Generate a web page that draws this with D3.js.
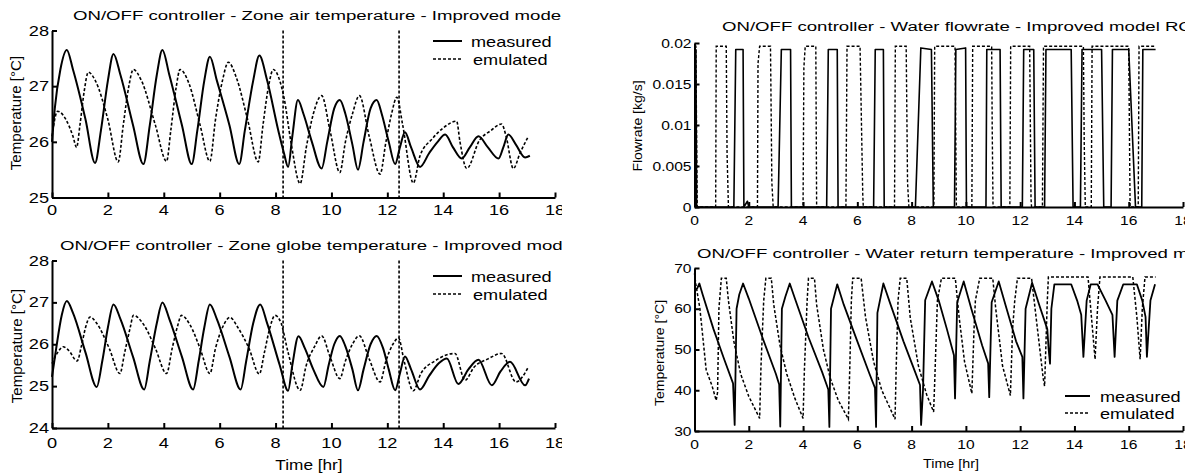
<!DOCTYPE html>
<html>
<head>
<meta charset="utf-8">
<script src="https://cdn.jsdelivr.net/npm/d3@7"></script>
<style>
  body { margin: 0; background: #fff; }
  svg { display: block; font-family: "Liberation Sans", Arial, Helvetica, sans-serif; }
</style>
</head>
<body>
<svg id="chart" width="1195" height="474"></svg>
<script>
// 1. Data (time in hr)
const timeTicks = [0, 2, 4, 6, 8, 10, 12, 14, 16, 18];
const airTicks = [25, 26, 27, 28];
const globeTicks = [24, 25, 26, 27, 28];
const flowTicks = [0, 0.005, 0.01, 0.015, 0.02];
const flowTickLabels = ["0", "0.005", "0.01", "0.015", "0.02"];
const returnTicks = [30, 40, 50, 60, 70];
const switchTimes = [8.27, 12.42];
const legendNames = ["measured", "emulated"];

const airMeasured = [[0,26.0],[0.1,26.6],[0.3,27.3],[0.53,27.65],[0.75,27.3],[1.2,26.4],[1.54,25.62],[1.75,26.2],[2.0,27.1],[2.2,27.58],[2.45,27.2],[2.9,26.3],[3.27,25.6],[3.5,26.3],[3.75,27.2],[3.95,27.65],[4.2,27.2],[4.65,26.3],[5.0,25.6],[5.2,26.2],[5.45,27.1],[5.65,27.53],[5.9,27.1],[6.35,26.3],[6.7,25.6],[6.9,26.2],[7.2,27.1],[7.42,27.55],[7.7,27.1],[8.1,26.2],[8.3,25.8],[8.45,25.55],[8.6,26.1],[8.8,26.75],[9.0,26.5],[9.3,26.0],[9.65,25.52],[9.85,26.0],[10.1,26.6],[10.3,26.75],[10.5,26.5],[10.75,25.95],[10.95,25.5],[11.15,26.0],[11.4,26.6],[11.62,26.75],[11.8,26.5],[12.05,26.0],[12.28,25.6],[12.45,25.9],[12.63,26.17],[12.85,25.9],[13.17,25.55],[13.5,25.8],[13.8,26.0],[14.07,26.13],[14.35,25.9],[14.66,25.7],[14.95,25.9],[15.26,26.1],[15.6,25.9],[15.98,25.7],[16.15,25.9],[16.33,26.13],[16.6,25.95],[16.93,25.72],[17.1,25.75]];
const airEmulated = [[0,26.1],[0.2,26.55],[0.5,26.4],[0.75,26.1],[0.88,25.9],[1.0,26.3],[1.15,26.9],[1.3,27.25],[1.55,27.1],[2.0,26.4],[2.37,25.64],[2.55,26.3],[2.75,27.0],[2.91,27.3],[3.2,27.1],[3.7,26.3],[4.1,25.65],[4.25,26.2],[4.45,27.0],[4.58,27.3],[4.9,27.05],[5.3,26.3],[5.65,25.65],[5.85,26.4],[6.1,27.1],[6.31,27.43],[6.6,27.15],[7.0,26.4],[7.38,25.64],[7.55,26.3],[7.75,27.0],[7.92,27.3],[8.15,27.1],[8.3,26.8],[8.55,26.0],[8.88,25.25],[9.1,25.9],[9.35,26.5],[9.65,26.83],[9.95,26.2],[10.3,25.45],[10.5,26.0],[10.75,26.5],[11.0,26.83],[11.35,26.1],[11.74,25.42],[11.95,26.0],[12.15,26.5],[12.34,26.8],[12.55,26.3],[12.93,25.26],[13.17,25.75],[13.6,26.05],[14.0,26.25],[14.48,26.37],[14.6,26.0],[14.84,25.52],[15.3,26.03],[15.7,26.2],[16.09,26.32],[16.25,26.1],[16.51,25.52],[16.75,25.8],[17.05,26.1]];

const globeMeasured = [[0,25.22],[0.15,25.9],[0.35,26.7],[0.53,27.03],[0.75,26.75],[1.2,25.8],[1.6,24.98],[1.8,25.6],[2.0,26.4],[2.2,26.95],[2.45,26.6],[2.9,25.7],[3.3,24.92],[3.5,25.6],[3.75,26.5],[3.95,27.0],[4.2,26.6],[4.65,25.7],[5.05,24.92],[5.25,25.6],[5.45,26.4],[5.65,26.95],[5.9,26.6],[6.35,25.7],[6.75,24.92],[6.95,25.6],[7.2,26.5],[7.45,26.95],[7.7,26.5],[8.15,25.5],[8.45,24.89],[8.6,25.5],[8.82,26.19],[9.05,25.9],[9.35,25.4],[9.71,24.98],[9.9,25.5],[10.1,26.0],[10.3,26.2],[10.5,25.95],[10.75,25.4],[10.95,24.9],[11.15,25.4],[11.4,26.0],[11.62,26.2],[11.85,25.9],[12.05,25.4],[12.28,24.9],[12.45,25.3],[12.63,25.71],[12.85,25.4],[13.17,24.92],[13.5,25.25],[13.85,25.55],[14.13,25.66],[14.54,25.05],[14.9,25.4],[15.26,25.63],[15.74,25.02],[16.05,25.35],[16.39,25.58],[16.93,25.02],[17.07,25.18]];
const globeEmulated = [[0,25.54],[0.2,25.8],[0.4,25.94],[0.6,25.85],[0.9,25.6],[1.05,25.95],[1.2,26.4],[1.36,26.65],[1.6,26.5],[2.05,25.9],[2.43,25.3],[2.6,25.8],[2.8,26.4],[2.91,26.69],[3.3,26.45],[3.7,25.9],[4.1,25.3],[4.3,25.9],[4.5,26.45],[4.63,26.69],[4.95,26.45],[5.3,25.9],[5.65,25.3],[5.85,25.9],[6.1,26.4],[6.37,26.64],[6.65,26.4],[7.05,25.9],[7.42,25.29],[7.6,25.8],[7.8,26.4],[7.98,26.69],[8.2,26.5],[8.45,25.8],[8.88,24.9],[9.1,25.5],[9.4,25.95],[9.65,26.2],[9.95,25.7],[10.3,25.18],[10.5,25.6],[10.75,26.0],[11.0,26.2],[11.35,25.65],[11.74,25.1],[11.95,25.6],[12.2,26.0],[12.4,26.15],[12.6,25.6],[12.93,24.89],[13.2,25.3],[13.7,25.6],[14.42,25.78],[14.78,25.14],[15.1,25.45],[15.6,25.65],[16.09,25.78],[16.6,25.1],[17.05,25.46]];

const flowMeasured = [[0,0.0192],[0.05,0.0192],[0.08,0],[1.45,0],[1.52,0.0192],[1.79,0.0192],[1.82,0],[1.95,0.0007],[2.0,0],[3.08,0],[3.2,0.0192],[3.54,0.0192],[3.57,0],[4.87,0],[4.93,0.0192],[5.26,0.0192],[5.29,0],[6.6,0],[6.66,0.0192],[6.96,0.0192],[6.99,0],[8.14,0],[8.34,0.0194],[8.73,0.0192],[8.8,0],[9.58,0],[9.63,0.0192],[9.99,0.0194],[10.02,0],[10.74,0],[10.77,0.0192],[11.26,0.0192],[11.3,0],[12.08,0],[12.13,0.0192],[12.5,0.0192],[12.55,0],[12.9,0],[12.95,0.0192],[13.88,0.0192],[13.95,0],[14.22,0],[14.28,0.0192],[15.0,0.0192],[15.08,0],[15.35,0],[15.4,0.0192],[16.0,0.0192],[16.25,0],[16.48,0],[16.52,0.0192],[16.99,0.0192]];
const flowEmulated = [[0,0.0196],[0.05,0.0196],[0.1,0],[0.78,0],[0.8,0.0196],[1.17,0.0196],[1.2,0.0065],[1.25,0],[2.32,0],[2.34,0.0175],[2.4,0.0196],[2.8,0.0196],[2.85,0.003],[2.9,0],[4.0,0],[4.03,0.017],[4.08,0.0196],[4.47,0.0196],[4.5,0],[5.58,0],[5.62,0.0196],[6.1,0.0196],[6.2,0.0015],[6.22,0],[7.37,0],[7.4,0.0196],[7.8,0.0196],[7.85,0.003],[7.9,0],[8.82,0],[8.85,0.0196],[9.6,0.0196],[9.65,0],[10.22,0],[10.25,0.0196],[10.95,0.0196],[10.97,0.0096],[11.0,0],[11.62,0],[11.65,0.0196],[12.35,0.0196],[12.4,0.001],[12.42,0],[12.82,0],[12.86,0.0196],[14.33,0.0196],[14.36,0.008],[14.4,0],[14.62,0],[14.65,0.0196],[16.0,0.0196],[16.05,0],[16.35,0],[16.38,0.0196],[16.99,0.0196]];

const returnMeasured = [[0,64.5],[0.1,65.0],[0.18,66.2],[0.3,63.5],[0.7,55],[1.1,47.5],[1.42,41.7],[1.48,31.5],[1.55,60],[1.65,63.5],[1.79,66.2],[2.0,62.5],[2.5,53],[3.0,44],[3.12,41.4],[3.16,31.1],[3.22,60],[3.35,63],[3.51,66.2],[3.7,62.5],[4.2,53],[4.7,44.5],[4.93,40.2],[4.97,31],[5.03,60],[5.26,66.0],[5.5,61],[6.0,52],[6.45,44],[6.65,40.6],[6.69,31],[6.74,59],[6.96,66.2],[7.2,61.5],[7.7,52],[8.1,45],[8.31,41.3],[8.35,31.5],[8.42,40],[8.5,62.1],[8.75,66.7],[9.0,62],[9.3,55],[9.56,48.6],[9.6,38],[9.68,61.6],[9.92,66.7],[10.2,60],[10.6,51],[10.82,46.6],[10.86,38.3],[10.95,61.6],[11.21,66.7],[11.5,60],[11.85,52],[12.08,48.2],[12.12,38],[12.2,60],[12.44,66.4],[12.7,61],[13.0,55],[13.05,50],[13.1,46.5],[13.15,60],[13.26,66],[13.88,66],[14.1,62],[14.25,58.5],[14.33,48.2],[14.45,62],[14.6,66],[14.85,66],[15.15,62],[15.4,58.5],[15.48,48.2],[15.58,62],[15.8,66],[16.3,66],[16.5,62],[16.62,58],[16.67,48.2],[16.8,62],[16.97,66]];
const returnEmulated = [[0,68.7],[0.05,66],[0.2,60],[0.43,45],[0.65,41],[0.8,37.5],[0.85,39.5],[0.9,60],[0.99,67.5],[1.17,67.5],[1.25,62],[1.45,52],[1.7,44],[2.0,38.5],[2.4,33.1],[2.45,46],[2.55,62],[2.63,67.5],[2.83,67.5],[2.92,61],[3.15,51],[3.4,44],[3.7,38],[4.0,33.1],[4.05,45],[4.15,62],[4.2,67.5],[4.42,67.5],[4.5,61],[4.75,50],[5.0,43],[5.3,37.5],[5.67,32.9],[5.72,45],[5.78,62],[5.83,67.5],[6.14,67.5],[6.3,58],[6.6,47],[6.9,40],[7.39,32.9],[7.43,45],[7.5,62],[7.58,67.5],[7.82,67.5],[7.95,57.8],[8.25,46],[8.55,39],[8.81,34.7],[8.85,41.8],[8.95,62],[9.1,67.5],[9.61,67.5],[9.75,58],[9.95,47],[10.22,39.2],[10.3,55],[10.35,62],[10.51,67.5],[10.99,67.5],[11.1,60],[11.35,46],[11.64,38.7],[11.72,55],[11.8,62],[11.9,67.5],[12.42,67.5],[12.55,60],[12.85,42.9],[12.9,41],[13.0,62],[13.04,67.8],[14.5,67.8],[14.6,60],[14.76,47.6],[14.85,60],[14.94,67.8],[16.15,67.8],[16.3,58],[16.42,47.6],[16.5,60],[16.6,67.8],[16.99,67.8]];

// 2. Setup
const svg = d3.select("#chart");
svg.append("rect").attr("width", 1195).attr("height", 474).attr("fill", "#fff");

// the figure halves are cropped at their right edge, as in the original
const defs = svg.append("defs");
defs.append("clipPath").attr("id", "clipLeft").append("rect").attr("x", 0).attr("y", 0).attr("width", 562).attr("height", 474);
defs.append("clipPath").attr("id", "clipRight").append("rect").attr("x", 580).attr("y", 0).attr("width", 605).attr("height", 474);

const leftHalf = svg.append("g").attr("clip-path", "url(#clipLeft)");
const rightHalf = svg.append("g").attr("clip-path", "url(#clipRight)");

// text helper: the original figure is stretched horizontally
function addText(g, x, y, str, size, sx, anchor, rotate) {
    g.append("text")
        .attr("transform", `translate(${x},${y})` + (rotate ? " rotate(-90)" : "") + ` scale(${sx},1)`)
        .attr("text-anchor", anchor || "start")
        .attr("font-size", size)
        .attr("fill", "#000")
        .text(str);
}

function drawPanel(p) {
    const g = p.g;
    const x = d3.scaleLinear().domain([0, 18]).range([p.left, p.right]);
    const y = d3.scaleLinear().domain(p.ydomain).range([p.bottom, p.top]);

    // axes with inward ticks, labels drawn separately
    const xAxis = g.append("g").attr("transform", `translate(0,${p.bottom})`)
        .call(d3.axisBottom(x).tickValues(timeTicks).tickSizeInner(-5).tickSizeOuter(0).tickFormat(""));
    const yAxis = g.append("g").attr("transform", `translate(${p.left},0)`)
        .call(d3.axisLeft(y).tickValues(p.yticks).tickSizeInner(-5).tickSizeOuter(0).tickFormat(""));
    [xAxis, yAxis].forEach(a => {
        a.selectAll("path, line").attr("stroke", "#000").attr("stroke-width", 2);
    });

    timeTicks.forEach(t => addText(g, x(t), p.xLabelY, String(t), p.tickSize, p.tickSx, "middle"));
    p.yticks.forEach((v, i) => addText(g, p.left - p.yLabelGap, y(v) + p.tickSize * 0.36,
        p.ylabels ? p.ylabels[i] : String(v), p.tickSize, p.tickSx, "end"));

    addText(g, p.titleX, p.titleY, p.title, 13.5, 1.38, "start");
    addText(g, p.ylabX, p.ylabY, p.ylabel, p.labSize, 1.08, "middle", true);
    if (p.xlabel) addText(g, p.xlabX, p.xlabY, p.xlabel, p.labSize, p.xlabSx, "middle");

    // vertical markers
    if (p.markers) {
        p.markers.forEach(t => {
            g.append("line")
                .attr("x1", x(t)).attr("x2", x(t))
                .attr("y1", p.top).attr("y2", p.bottom)
                .attr("stroke", "#000").attr("stroke-width", 1.6)
                .attr("stroke-dasharray", "3,2");
        });
    }

    const line = d3.line().x(d => x(d[0])).y(d => y(d[1])).curve(p.curve);
    g.append("path").datum(p.emulated).attr("d", line)
        .attr("fill", "none").attr("stroke", "#000").attr("stroke-width", p.lwEmu)
        .attr("stroke-dasharray", "3,2");
    g.append("path").datum(p.measured).attr("d", line)
        .attr("fill", "none").attr("stroke", "#000").attr("stroke-width", p.lwMeas)
        .attr("stroke-linejoin", "round");

    // legend
    if (p.legend) {
        const L = p.legend;
        legendNames.forEach((name, i) => {
            const ly = L.y + i * L.dy;
            g.append("line")
                .attr("x1", L.x).attr("x2", L.x + L.len)
                .attr("y1", ly).attr("y2", ly)
                .attr("stroke", "#000").attr("stroke-width", i === 0 ? 2 : 1.6)
                .attr("stroke-dasharray", i === 0 ? null : "3,2");
            addText(g, L.tx + i * L.tshift, ly + 5.5, name, 14.5, 1.25, "start");
        });
    }
}

// 3. Panels
drawPanel({
    g: leftHalf, left: 52, right: 555, top: 30.5, bottom: 197.5,
    ydomain: [25, 28], yticks: airTicks,
    tickSize: 14, tickSx: 1.3, xLabelY: 215, yLabelGap: 3,
    title: "ON/OFF controller - Zone air temperature - Improved model RC", titleX: 73, titleY: 20,
    ylabel: "Temperature [°C]", ylabX: 21, ylabY: 113, labSize: 14,
    markers: switchTimes, curve: d3.curveMonotoneX, lwMeas: 2, lwEmu: 1.6,
    measured: airMeasured, emulated: airEmulated,
    legend: { x: 433, len: 29, y: 41, dy: 18, tx: 471, tshift: 2 }
});

drawPanel({
    g: leftHalf, left: 52, right: 555, top: 260.5, bottom: 428,
    ydomain: [24, 28], yticks: globeTicks,
    tickSize: 14, tickSx: 1.3, xLabelY: 448, yLabelGap: 3,
    title: "ON/OFF controller - Zone globe temperature - Improved model RC", titleX: 60, titleY: 250,
    ylabel: "Temperature [°C]", ylabX: 21.5, ylabY: 346, labSize: 14,
    xlabel: "Time [hr]", xlabX: 309, xlabY: 470, xlabSx: 1.23,
    markers: switchTimes, curve: d3.curveMonotoneX, lwMeas: 2, lwEmu: 1.6,
    measured: globeMeasured, emulated: globeEmulated,
    legend: { x: 433, len: 29, y: 276, dy: 18, tx: 471, tshift: 2 }
});

drawPanel({
    g: rightHalf, left: 694.5, right: 1183, top: 43, bottom: 207,
    ydomain: [0, 0.02], yticks: flowTicks, ylabels: flowTickLabels,
    tickSize: 13, tickSx: 1.2, xLabelY: 225, yLabelGap: 3,
    title: "ON/OFF controller - Water flowrate - Improved model RC", titleX: 722, titleY: 31,
    ylabel: "Flowrate [kg/s]", ylabX: 642, ylabY: 126, labSize: 13,
    curve: d3.curveLinear, lwMeas: 1.6, lwEmu: 1.4,
    measured: flowMeasured, emulated: flowEmulated
});

drawPanel({
    g: rightHalf, left: 694.5, right: 1183, top: 268, bottom: 431,
    ydomain: [30, 70], yticks: returnTicks,
    tickSize: 13, tickSx: 1.2, xLabelY: 449, yLabelGap: 3,
    title: "ON/OFF controller - Water return temperature - Improved model RC", titleX: 697, titleY: 257.5,
    ylabel: "Temperature [°C]", ylabX: 663.5, ylabY: 353, labSize: 13,
    xlabel: "Time [hr]", xlabX: 951, xlabY: 468, xlabSx: 1.1,
    curve: d3.curveLinear, lwMeas: 1.8, lwEmu: 1.5,
    measured: returnMeasured, emulated: returnEmulated,
    legend: { x: 1065, len: 25, y: 396, dy: 17, tx: 1100, tshift: 0 }
});
</script>
</body>
</html>
